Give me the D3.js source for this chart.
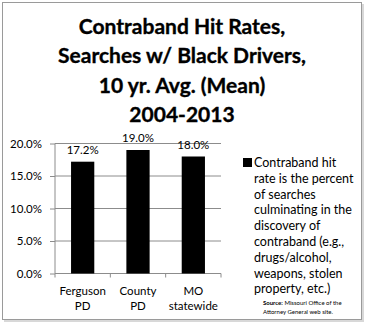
<!DOCTYPE html>
<html><head><meta charset="utf-8">
<script src="https://cdn.jsdelivr.net/npm/d3@7"></script>
<style>
html,body{margin:0;padding:0;background:#fff;}
svg{display:block;font-family:Lato,"Open Sans",sans-serif;}
</style></head>
<body>
<svg id="c" width="366" height="325"></svg>
<script>
const titleLines = ["Contraband Hit Rates,", "Searches w/ Black Drivers,", "10 yr. Avg. (Mean)", "2004-2013"];
const categories = [["Ferguson", "PD"], ["County", "PD"], ["MO", "statewide"]];
const values = [17.2, 19.0, 18.0];
const yTicks = [0, 5, 10, 15, 20];
const legendLines = ["Contraband hit", "rate is the percent", "of searches", "culminating in the", "discovery of", "contraband (e.g.,", "drugs/alcohol,", "weapons, stolen", "property, etc.)"];
const sourceLines = [["Source:", " Missouri Office of the"], ["", "Attorney General web site."]];

const svg = d3.select("#c");
// frame
svg.append("rect").attr("x",4).attr("y",4).attr("width",360).attr("height",318).attr("fill","#d8d8d8");
svg.append("rect").attr("x",2.5).attr("y",2.5).attr("width",359).attr("height",317).attr("fill","#fff").attr("stroke","#9a9a9a").attr("stroke-width",1);

// title
svg.append("g").selectAll("text").data(titleLines).join("text")
  .attr("x",182).attr("y",(d,i)=>34+i*29.3)
  .attr("text-anchor","middle").attr("font-weight","bold").attr("font-size",21)
  .attr("fill","#000").attr("stroke","#000").attr("stroke-width",0.35).text(d=>d);

const x = d3.scaleBand().domain(d3.range(values.length)).range([55,221]).paddingInner(0.58).paddingOuter(0.29);
const xb = d3.scaleBand().domain(d3.range(values.length)).range([55,221]);
const y = d3.scaleLinear().domain([0,20]).range([273.5,143.5]);

// gridlines
svg.append("g").selectAll("line").data(yTicks.filter(t=>t>0)).join("line")
  .attr("x1",55).attr("x2",221).attr("y1",d=>y(d)).attr("y2",d=>y(d))
  .attr("stroke","#8c8c8c").attr("stroke-width",1);

// y axis
const ya = svg.append("g").attr("transform","translate(55,0)")
  .call(d3.axisLeft(y).tickValues(yTicks).tickSize(5).tickPadding(8).tickFormat(d=>d3.format(".1f")(d)+"%"));
ya.select(".domain").attr("stroke","#8c8c8c").attr("d","M0,"+y(20)+"V"+y(0));
ya.selectAll(".tick line").attr("stroke","#8c8c8c");
ya.selectAll("text").attr("font-family","Lato").attr("font-size",11.5).attr("fill","#000");

// x axis
svg.append("line").attr("x1",55).attr("x2",221).attr("y1",y(0)).attr("y2",y(0)).attr("stroke","#8c8c8c");
svg.append("g").selectAll("line").data(d3.range(values.length+1)).join("line")
  .attr("x1",d=>d<values.length?xb(d):221).attr("x2",d=>d<values.length?xb(d):221)
  .attr("y1",y(0)).attr("y2",y(0)+4).attr("stroke","#8c8c8c");

// bars
svg.append("g").selectAll("rect").data(values).join("rect")
  .attr("x",(d,i)=>x(i)).attr("width",x.bandwidth())
  .attr("y",d=>y(d)).attr("height",d=>y(0)-y(d)).attr("fill","#000");

// value labels
svg.append("g").selectAll("text").data(values).join("text")
  .attr("x",(d,i)=>x(i)+x.bandwidth()/2).attr("y",d=>y(d)-8)
  .attr("text-anchor","middle").attr("font-size",11.5).attr("fill","#000")
  .text(d=>d3.format(".1f")(d)+"%");

// category labels
const cl = svg.append("g").selectAll("text").data(categories).join("text")
  .attr("text-anchor","middle").attr("font-size",11.5).attr("fill","#000");
cl.selectAll("tspan").data((d,i)=>d.map(s=>({s,i}))).join("tspan")
  .attr("x",d=>xb(d.i)+xb.bandwidth()/2).attr("y",(d,j)=>295+j*15).text(d=>d.s);

// legend
svg.append("rect").attr("x",243).attr("y",158).attr("width",9).attr("height",9).attr("fill","#000");
svg.append("g").selectAll("text").data(legendLines).join("text")
  .attr("x",254).attr("y",(d,i)=>167+i*15.8).attr("font-size",12.5).attr("fill","#000").text(d=>d);

// source
const st = svg.append("g").selectAll("text").data(sourceLines).join("text")
  .attr("x",263).attr("y",(d,i)=>305+i*9).attr("font-size",6).attr("fill","#000");
st.append("tspan").attr("font-weight","bold").text(d=>d[0]);
st.append("tspan").text(d=>d[1]);
</script>
</body></html>
